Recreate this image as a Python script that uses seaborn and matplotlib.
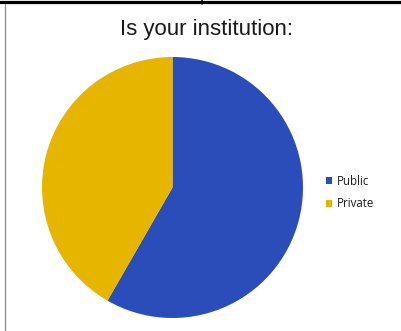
import matplotlib
matplotlib.use("Agg")
import matplotlib.pyplot as plt
from matplotlib.lines import Line2D
from matplotlib.patches import Patch
import seaborn as sns

# Survey answers (share of respondents, %)
categories = ["Public", "Private"]
shares = [58.3, 41.7]
colors = ["#2a4db9", "#e6b500"]
title = "Is your institution:"

sns.set_theme(style="white")
plt.rcParams["font.family"] = ["Liberation Sans", "DejaVu Sans"]

fig = plt.figure(figsize=(4.01, 3.31), dpi=100)
fig.patch.set_facecolor("white")

# Pie axes: square, sized so the pie radius fills it
ax = fig.add_axes([42 / 401, 13 / 331, 261 / 401, 261 / 331])
ax.pie(shares, colors=colors, startangle=90, counterclock=False,
       radius=1.0, wedgeprops=dict(linewidth=0))
ax.set_xlim(-1.0, 1.0)
ax.set_ylim(-1.0, 1.0)
ax.set_aspect("equal")
ax.axis("off")

fig.text(206 / 401, (331 - 35) / 331, title, ha="center", va="baseline",
         fontsize=16.0, color="#1a1a1a", family=["Liberation Sans", "DejaVu Sans"])

handles = [Patch(facecolor=c, edgecolor="none") for c in colors]
fig.legend(handles, categories, loc="center left",
           bbox_to_anchor=(325.5 / 401, (331 - 192.5) / 331),
           frameon=False, borderaxespad=0, borderpad=0,
           handlelength=0.55, handleheight=0.55, handletextpad=0.4,
           labelspacing=0.85,
           prop=dict(family=["Open Sans", "DejaVu Sans"], size=8.3),
           labelcolor="#1e1e1e")

# Surrounding cell borders
fig.add_artist(Line2D([0, 1], [1 - 1.5 / 331, 1 - 1.5 / 331],
                      transform=fig.transFigure, color="black", linewidth=2.3))
fig.add_artist(Line2D([202 / 401, 202 / 401], [1, 1 - 4 / 331],
                      transform=fig.transFigure, color="black", linewidth=1.2))
fig.add_artist(Line2D([4.5 / 401, 4.5 / 401], [0, 1 - 4 / 331],
                      transform=fig.transFigure, color="#8a8a8a", linewidth=0.9))

fig.savefig("out.png", dpi=100, facecolor="white")
